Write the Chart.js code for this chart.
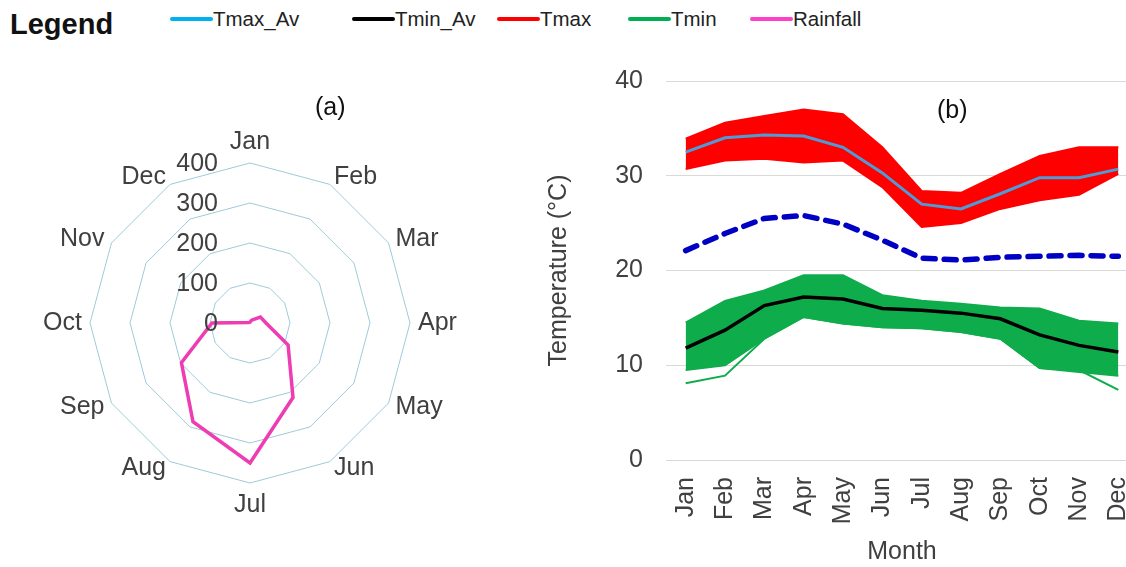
<!DOCTYPE html>
<html>
<head>
<meta charset="utf-8">
<script src="https://cdn.jsdelivr.net/npm/chart.js@4.4.1/dist/chart.umd.min.js"></script>
<style>
  html, body { margin: 0; padding: 0; background: #fff; overflow: hidden; }
  #page { position: relative; width: 1126px; height: 567px; overflow: hidden; font-family: "Liberation Sans", Arial, sans-serif; color: #111; }
  .legend-title { position: absolute; left: 10px; top: 8px; font-size: 29px; font-weight: bold; }
  .item { position: absolute; top: 7px; font-size: 20.5px; color: #222; white-space: nowrap; }
  .item i { display: inline-block; width: 43px; height: 4px; border-radius: 2px; vertical-align: middle; position: relative; top: -2px; }
  .panel-label { position: absolute; font-size: 25px; color: #111; }
  canvas { position: absolute; }
</style>
</head>
<body>
<div id="page">
  <div class="legend-title">Legend</div>
  <div class="item" style="left:170px"><i style="background:#00b0f0"></i>Tmax_Av</div>
  <div class="item" style="left:352px"><i style="background:#000"></i>Tmin_Av</div>
  <div class="item" style="left:497px"><i style="background:#ff0000"></i>Tmax</div>
  <div class="item" style="left:628px"><i style="background:#00b050"></i>Tmin</div>
  <div class="item" style="left:750px"><i style="background:#ff3fc8"></i>Rainfall</div>

  <canvas id="radarChart" width="500" height="500" style="left:0px; top:73px"></canvas>
  <canvas id="lineChart" width="598" height="507" style="left:540px; top:60px"></canvas>

  <div class="panel-label" style="left:315px; top:92px">(a)</div>
  <div class="panel-label" style="left:937px; top:95px">(b)</div>
</div>

<script>
const months = ["Jan", "Feb", "Mar", "Apr", "May", "Jun", "Jul", "Aug", "Sep", "Oct", "Nov", "Dec"];

// (a) monthly rainfall (mm)
const rainfall = [2, 8, 30, 40, 110, 215, 350, 285, 198, 95, 3, 2];
const rainTicks = [0, 100, 200, 300, 400];

// (b) temperature (deg C)
const tmaxAv = [32.5, 34.0, 34.3, 34.2, 33.0, 30.3, 27.0, 26.5, 28.1, 29.8, 29.8, 30.7];
const tminAv = [11.8, 13.7, 16.3, 17.2, 17.0, 16.0, 15.8, 15.5, 14.9, 13.2, 12.1, 11.4];
const tmean = [22.1, 23.9, 25.5, 25.8, 24.9, 23.2, 21.3, 21.1, 21.4, 21.5, 21.6, 21.5];
const tmaxHigh = [33.9, 35.6, 36.3, 37.0, 36.5, 33.0, 28.4, 28.2, 30.2, 32.1, 33.0, 33.0];
const tmaxLow = [30.7, 31.6, 31.8, 31.4, 31.6, 28.8, 24.6, 25.0, 26.5, 27.4, 28.0, 30.2];
const tminHigh = [14.5, 16.8, 17.9, 19.5, 19.5, 17.4, 16.8, 16.5, 16.1, 16.0, 14.7, 14.4];
const tminLow = [9.5, 10.0, 12.8, 15.1, 14.4, 14.0, 13.9, 13.5, 12.8, 9.7, 9.3, 8.9];
const tminMember = [8.1, 8.9, 12.8, 15.1, 14.4, 14.0, 13.9, 13.5, 12.8, 9.7, 9.5, 7.4];
const tempTicks = [0, 10, 20, 30, 40];

const xTitle = "Month";
const yTitle = "Temperature (\u00B0C)";

Chart.defaults.font.family = '"Liberation Sans", Arial, sans-serif';
Chart.defaults.font.size = 25;
Chart.defaults.color = "#404040";

const labelFont = '25px "Liberation Sans", Arial, sans-serif';

// excel-like labels for the radar: values left of the axis, months outside the ring
const radarLabels = {
  id: "radarLabels",
  afterDraw(chart) {
    const r = chart.scales.r;
    const ctx = chart.ctx;
    ctx.save();
    ctx.font = labelFont;
    ctx.fillStyle = "#404040";
    ctx.textAlign = "right";
    ctx.textBaseline = "middle";
    rainTicks.forEach((v) => {
      ctx.fillText(String(v), r.xCenter - 32, r.yCenter - r.getDistanceFromCenterForValue(v) + 1);
    });
    const n = chart.data.labels.length;
    chart.data.labels.forEach((label, i) => {
      const p = r.getPointPosition(i, r.drawingArea + 8);
      const a = Math.round((i * 360) / n);
      let y = p.y;
      if (a === 0) y -= 13;
      if (a === 180) y += 14;
      ctx.textAlign = a === 0 || a === 180 ? "center" : a < 180 ? "left" : "right";
      ctx.textBaseline = "middle";
      ctx.fillText(label, p.x, y);
    });
    ctx.restore();
  },
};

const radarChart = new Chart(document.getElementById("radarChart"), {
  type: "radar",
  data: {
    labels: months,
    datasets: [
      {
        label: "Rainfall",
        data: rainfall,
        borderColor: "#ee3cb3",
        borderWidth: 3.5,
        fill: false,
        pointRadius: 0,
        tension: 0,
      },
    ],
  },
  options: {
    responsive: false,
    animation: false,
    layout: { padding: 90 },
    plugins: { legend: { display: false }, tooltip: { enabled: false } },
    scales: {
      r: {
        min: 0,
        max: 400,
        ticks: { display: false, stepSize: 100 },
        pointLabels: { display: false },
        angleLines: { display: false },
        grid: { color: "#9fcad9", lineWidth: 1 },
      },
    },
  },
  plugins: [radarLabels],
});

const lineChart = new Chart(document.getElementById("lineChart"), {
  type: "line",
  data: {
    labels: months,
    datasets: [
      { label: "Tmax_Av", data: tmaxAv, borderColor: "#4f9bd6", borderWidth: 3, order: 0 },
      { label: "Tmin_Av", data: tminAv, borderColor: "#000000", borderWidth: 3.5, order: 0 },
      {
        label: "Tmean",
        data: tmean,
        borderColor: "#0000c4",
        borderWidth: 5.5,
        borderDash: [12, 9],
        borderCapStyle: "round",
        order: 0,
      },
      {
        label: "Tmax",
        data: tmaxHigh,
        borderColor: "#ff0000",
        backgroundColor: "#ff0000",
        borderWidth: 2,
        fill: "+1",
        order: 2,
      },
      { label: "Tmax low", data: tmaxLow, borderColor: "#ff0000", borderWidth: 2, order: 2 },
      {
        label: "Tmin",
        data: tminHigh,
        borderColor: "#0fac4c",
        backgroundColor: "#0fac4c",
        borderWidth: 2,
        fill: "+1",
        order: 2,
      },
      { label: "Tmin low", data: tminLow, borderColor: "#0fac4c", borderWidth: 2, order: 2 },
      { label: "Tmin member", data: tminMember, borderColor: "#0fac4c", borderWidth: 2, order: 1 },
    ],
  },
  options: {
    responsive: false,
    animation: false,
    layout: { padding: { top: 21, right: 0, left: 0, bottom: 0 } },
    elements: { point: { radius: 0 }, line: { tension: 0 } },
    plugins: { legend: { display: false }, tooltip: { enabled: false } },
    scales: {
      x: {
        offset: true,
        grid: { display: false, drawTicks: false },
        border: { display: false },
        ticks: { minRotation: 90, maxRotation: 90, padding: 17, color: "#404040" },
        title: { display: true, text: xTitle, color: "#404040", padding: { top: 0, bottom: 0 } },
        afterFit(scale) {
          scale.height = 107;
          scale.paddingLeft = 0;
          scale.paddingRight = 0;
        },
      },
      y: {
        min: 0,
        max: 40,
        afterBuildTicks(scale) {
          scale.ticks = tempTicks.map((v) => ({ value: v }));
        },
        grid: { color: "#d9d9d9", drawTicks: false },
        border: { display: false },
        ticks: { padding: 23, color: "#404040" },
        title: { display: true, text: yTitle, color: "#404040", padding: { top: 4, bottom: 4 } },
        afterFit(scale) {
          scale.width = 126;
          scale.paddingTop = 0;
          scale.paddingBottom = 0;
        },
      },
    },
  },
});
</script>
</body>
</html>
